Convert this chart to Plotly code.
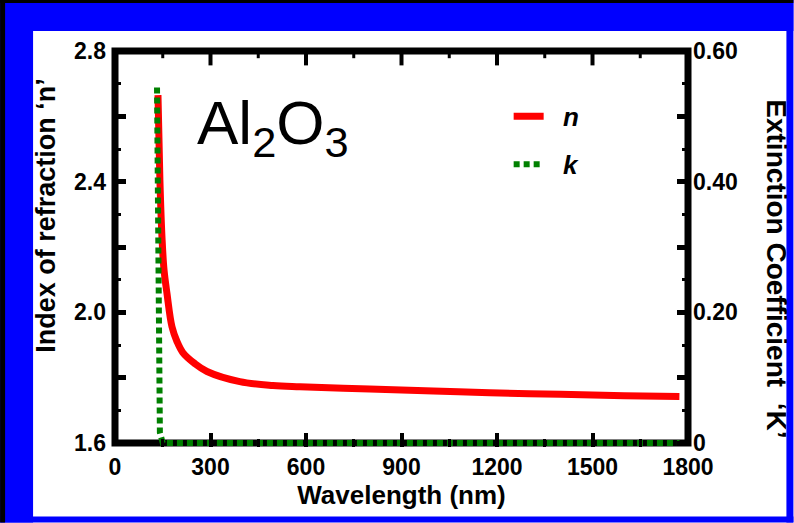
import plotly.graph_objects as go

# ---- data ----
wl_n = [135, 141, 148, 154, 163, 179, 195, 213, 251, 289, 392, 496, 581, 800, 1000, 1177, 1400, 1600, 1773]
n_vals = [2.665, 2.406, 2.222, 2.130, 2.060, 1.956, 1.910, 1.877, 1.843, 1.819, 1.788, 1.776, 1.772,
          1.765, 1.759, 1.754, 1.749, 1.745, 1.742]

wl_k = [132, 135, 138, 141, 150, 300, 600, 900, 1200, 1500, 1773]
k_vals = [0.544, 0.265, 0.036, 0.016, 0.0, 0.0, 0.0, 0.0, 0.0, 0.0, 0.0]

x_ticks = [0, 300, 600, 900, 1200, 1500, 1800]
x_minor_ticks = [150, 450, 750, 1050, 1350, 1650]
y_ticks = [1.6, 1.8, 2.0, 2.2, 2.4, 2.6, 2.8]
y_ticktext = ["1.6", "", "2.0", "", "2.4", "", "2.8"]
y2_ticks = [0, 0.1, 0.2, 0.3, 0.4, 0.5, 0.6]
y2_ticktext = ["0", "", "0.20", "", "0.40", "", "0.60"]

# ---- layout geometry (pixels) ----
W, H = 794, 523
L, R, T, B = 115, 688.5, 51, 443.5     # frame (axis box) centre lines
EXT = 4                                 # plot area extends below the frame so k=0 is not clipped
BP = B + EXT
PW, PH = R - L, BP - T

def px(x):
    return (x - L) / PW

def py(y):
    return (BP - y) / PH

Y_TOP = 2.8
UNIT_PER_PX = 1.2 / (B - T)
y_lo = 1.6 - EXT * UNIT_PER_PX
y2_lo = 0.0 - EXT * (0.6 / (B - T))

FONT = "Liberation Sans, Arial, sans-serif"

fig = go.Figure()
fig.add_trace(go.Scatter(
    x=wl_n, y=n_vals, name="\u00a0\u00a0<b><i>n</i></b>", mode="lines",
    line=dict(color="#FF0000", width=7, shape="spline", smoothing=1.0),
    legendgroup="n", yaxis="y"))
fig.add_trace(go.Scatter(
    x=wl_k, y=k_vals, name="\u00a0\u00a0<b><i>k</i></b>", mode="lines",
    line=dict(color="#008000", width=6, dash="6px,4px"),
    legendgroup="k", yaxis="y2"))

# top-edge tick marks (mirror of the x-axis ticks), hanging down from the top frame
top_major_len, top_minor_len = 12, 6
fig.add_trace(go.Scatter(
    x=x_ticks[1:-1], y=[Y_TOP - top_major_len / 2 * UNIT_PER_PX] * (len(x_ticks) - 2),
    mode="markers", yaxis="y", showlegend=False, hoverinfo="skip",
    marker=dict(symbol="line-ns", size=top_major_len, line=dict(width=4, color="black"))))
fig.add_trace(go.Scatter(
    x=x_minor_ticks, y=[Y_TOP - top_minor_len / 2 * UNIT_PER_PX] * len(x_minor_ticks),
    mode="markers", yaxis="y", showlegend=False, hoverinfo="skip",
    marker=dict(symbol="line-ns", size=top_minor_len, line=dict(width=3, color="black"))))

tickfont = dict(family=FONT, size=23, color="black", weight="bold")
minor_x = dict(dtick=150, tick0=0, ticks="inside", ticklen=8, tickwidth=3, tickcolor="black")

fig.update_layout(
    width=W, height=H,
    margin=dict(l=L, r=W - R, t=T, b=H - BP, autoexpand=False),
    paper_bgcolor="white",
    plot_bgcolor="white",
    showlegend=True,
    legend=dict(x=px(509), y=py(93), xanchor="left", yanchor="top",
                bgcolor="rgba(0,0,0,0)", borderwidth=0,
                font=dict(family=FONT, size=26, color="black"),
                tracegroupgap=11, traceorder="grouped"),
    xaxis=dict(range=[0, 1800], tickvals=x_ticks, ticks="inside", ticklen=14, tickwidth=4,
               tickcolor="black", showline=False, showgrid=False, zeroline=False,
               tickfont=tickfont, ticklabelstandoff=4, minor=minor_x,
               title=dict(text="Wavelength (nm)", font=dict(family=FONT, size=26, color="black", weight="bold"),
                          standoff=5)),
    yaxis=dict(range=[y_lo, 2.8], tickvals=y_ticks, ticktext=y_ticktext, ticks="inside", ticklen=11,
               tickwidth=5, tickcolor="black", showline=False, showgrid=False, zeroline=False,
               tickfont=tickfont, ticklabelstandoff=8,
               minor=dict(dtick=0.1, tick0=1.6, ticks="inside", ticklen=6, tickwidth=3, tickcolor="black")),
    yaxis2=dict(range=[y2_lo, 0.6], tickvals=y2_ticks, ticktext=y2_ticktext, overlaying="y", side="right",
                ticks="inside", ticklen=11, tickwidth=5, tickcolor="black", showline=False,
                showgrid=False, zeroline=False, tickfont=tickfont, ticklabelstandoff=4,
                minor=dict(dtick=0.05, tick0=0, ticks="inside", ticklen=6, tickwidth=3, tickcolor="black")),
)

BLUE = "#0000FF"

def band(x0, x1, y0, y1, color):
    return dict(type="rect", xref="paper", yref="paper", x0=px(x0), x1=px(x1), y0=py(y1), y1=py(y0),
                fillcolor=color, line=dict(width=0), layer="below")

shapes = [
    band(0, W, 0, 31, BLUE),        # top blue
    band(0, W, 517, H, BLUE),       # bottom blue
    band(0, 33, 0, H, BLUE),        # left blue
    band(787, W, 0, H, BLUE),       # right blue
    band(0, 5, 0, H, "black"),      # left black strip
    band(0, W, 0, 3, "black"),      # top black strip
    dict(type="rect", xref="paper", yref="paper", x0=px(L), x1=px(R), y0=py(B), y1=py(T),
         fillcolor="rgba(0,0,0,0)", line=dict(color="black", width=7), layer="below"),
]
fig.update_layout(shapes=shapes)

fig.add_annotation(text="Al<sub>2</sub>O<sub>3</sub>", xref="paper", yref="paper",
                   x=px(195), y=py(127), xanchor="left", yanchor="middle", showarrow=False,
                   font=dict(family=FONT, size=62, color="black"))
fig.add_annotation(text="Index of refraction \u2018n\u2019", xref="paper", yref="paper",
                   x=px(46), y=py(216), xanchor="center", yanchor="middle", textangle=-90,
                   showarrow=False, font=dict(family=FONT, size=27, color="black", weight="bold"))
fig.add_annotation(text="Extinction Coefficient  \u2018K\u2019", xref="paper", yref="paper",
                   x=px(777), y=py(269), xanchor="center", yanchor="middle", textangle=90,
                   showarrow=False, font=dict(family=FONT, size=28, color="black", weight="bold"))

fig.write_html("out.html")
